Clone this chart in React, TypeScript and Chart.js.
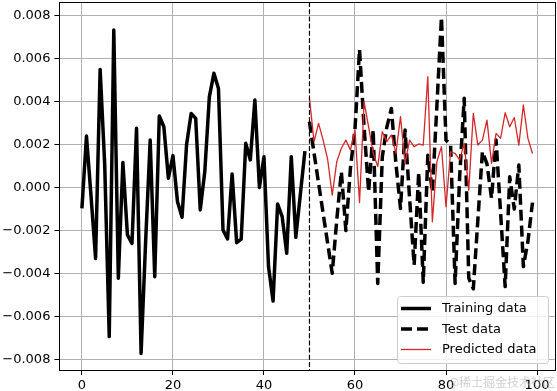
import React, { useEffect, useRef } from "react";
import { Chart, registerables } from "chart.js";

Chart.register(...registerables);

// ---- data ----
const TRAIN_START = 0;
const TEST_START = 50;
const SPLIT_X = 50;

const trainValues = [
  -0.00097, 0.00239, -0.0004, -0.00329, 0.00548, 0.0011, -0.00692, 0.00731, -0.00421, 0.00116,
  -0.0022, -0.0026, 0.00275, -0.0077, -0.0025, 0.0022, -0.00414, 0.00332, 0.00282, 0.00043,
  0.00148, -0.00066, -0.00138, 0.002, 0.00344, 0.00321, -0.00104, 0.00074, 0.00421, 0.0053,
  0.0046, -0.00197, -0.00239, 0.00063, -0.00256, -0.0024, 0.00205, 0.00128, 0.00406, 0.0,
  0.00143, -0.00367, -0.00527, -0.00077, -0.00135, -0.00305, 0.00143, -0.00231, -0.0003, 0.00169,
];

const testValues = [
  0.00305, 0.0016, 0.0002, -0.0012, -0.0026, -0.00398, -0.0015, 0.00073, -0.002, 0.0009,
  0.0027, 0.0064, 0.0028, -0.0002, 0.00267, -0.00445, 0.00143, 0.0028, 0.00367, 0.0011,
  -0.00097, 0.00267, -0.0005, -0.0036, 0.0007, -0.0044, 0.0015, -0.0002, 0.0038, 0.0079,
  0.0022, 0.002, -0.00445, 0.0005, 0.00414, -0.0042, -0.0047, -0.0015, 0.00166, 0.0011,
  -0.0005, 0.0022, -0.0012, -0.0046, 0.0005, -0.001, 0.00104, -0.00367, -0.0025, -0.0007,
];

const predValues = [
  0.00414, 0.00213, 0.00298, 0.0022, 0.0013, -0.00035, 0.0012, 0.00182, 0.0022, 0.00174,
  0.00267, -0.0007, 0.00398, 0.0028, 0.0016, 0.00097, 0.00259, 0.00213, 0.00244, 0.00159,
  0.00329, 0.00112, 0.0022, 0.0019, 0.00202, 0.00197, 0.00514, -0.00159, 0.0012, 0.0019,
  -0.00089, 0.00166, 0.00158, 0.00128, 0.00205, -0.00012, 0.00344, 0.00197, 0.0022, 0.00313,
  0.00112, 0.00251, 0.00228, 0.00347, 0.00282, 0.00325, 0.00197, 0.00383, 0.00228, 0.00158,
];

const xTicks = [0, 20, 40, 60, 80, 100];
const yTicks = [-0.008, -0.006, -0.004, -0.002, 0, 0.002, 0.004, 0.006, 0.008];
const seriesLabels = ["Training data", "Test data", "Predicted data"];
const watermark = "@稀土掘金技术社区";

const FONT = "'DejaVu Sans', 'Liberation Sans', sans-serif";

const toPoints = (vals: number[], start: number) => vals.map((v, i) => ({ x: start + i, y: v }));

const fmtY = (v: number) => {
  const s = Math.abs(v) < 1e-12 ? "0.000" : v.toFixed(3);
  return s.replace("-", "\u2212");
};

const framePlugin = {
  id: "frameAndExtras",
  afterDatasetsDraw(chart: any) {
    const { ctx, chartArea, scales } = chart;
    const x = scales.x.getPixelForValue(SPLIT_X);
    ctx.save();
    ctx.strokeStyle = "#000";
    ctx.lineWidth = 1.2;
    ctx.setLineDash([5, 2.2]);
    ctx.beginPath();
    ctx.moveTo(x, chartArea.top);
    ctx.lineTo(x, chartArea.bottom);
    ctx.stroke();
    ctx.restore();
  },
  afterDraw(chart: any) {
    const { ctx, chartArea } = chart;
    ctx.save();
    // frame
    ctx.strokeStyle = "#000";
    ctx.lineWidth = 1;
    ctx.strokeRect(
      Math.round(chartArea.left) + 0.5,
      Math.round(chartArea.top) + 0.5,
      Math.round(chartArea.right - chartArea.left),
      Math.round(chartArea.bottom - chartArea.top)
    );

    // legend (lower right)
    const bx = 397.5, by = 296.5, bw = 151, bh = 67, r = 3;
    ctx.beginPath();
    ctx.moveTo(bx + r, by);
    ctx.lineTo(bx + bw - r, by);
    ctx.quadraticCurveTo(bx + bw, by, bx + bw, by + r);
    ctx.lineTo(bx + bw, by + bh - r);
    ctx.quadraticCurveTo(bx + bw, by + bh, bx + bw - r, by + bh);
    ctx.lineTo(bx + r, by + bh);
    ctx.quadraticCurveTo(bx, by + bh, bx, by + bh - r);
    ctx.lineTo(bx, by + r);
    ctx.quadraticCurveTo(bx, by, bx + r, by);
    ctx.closePath();
    ctx.fillStyle = "rgba(255,255,255,0.8)";
    ctx.fill();
    ctx.strokeStyle = "#cccccc";
    ctx.lineWidth = 1;
    ctx.stroke();

    const rows = [308.5, 329, 349.5];
    const legendOrder = [0, 1, 2];
    legendOrder.forEach((di, k) => {
      const ds = chart.data.datasets[di];
      const yy = rows[k];
      ctx.save();
      ctx.strokeStyle = ds.borderColor;
      ctx.lineWidth = ds.borderWidth;
      ctx.setLineDash(ds.borderDash || []);
      ctx.lineCap = "butt";
      ctx.beginPath();
      ctx.moveTo(401, yy);
      ctx.lineTo(431, yy);
      ctx.stroke();
      ctx.restore();
      ctx.fillStyle = "#000";
      ctx.font = `13px ${FONT}`;
      ctx.textAlign = "left";
      ctx.textBaseline = "middle";
      ctx.fillText(ds.label, 442, yy + 0.5);
    });

    // watermark
    ctx.fillStyle = "rgba(170,170,170,0.55)";
    ctx.font = "12px 'Noto Sans CJK SC', sans-serif";
    ctx.textAlign = "right";
    ctx.textBaseline = "alphabetic";
    ctx.fillText(watermark, 555, 387);
    ctx.restore();
  },
};

export default function App() {
  const ref = useRef<HTMLCanvasElement | null>(null);

  useEffect(() => {
    if (!ref.current) return;
    const chart = new Chart(ref.current, {
      type: "line",
      data: {
        datasets: [
          {
            label: seriesLabels[0],
            data: toPoints(trainValues, TRAIN_START),
            borderColor: "#000000",
            borderWidth: 3.5,
            pointRadius: 0,
            tension: 0,
            borderJoinStyle: "round",
            borderCapStyle: "butt",
            order: 2,
          },
          {
            label: seriesLabels[1],
            data: toPoints(testValues, TEST_START),
            borderColor: "#000000",
            borderWidth: 3.5,
            borderDash: [11, 5],
            pointRadius: 0,
            tension: 0,
            borderJoinStyle: "round",
            borderCapStyle: "butt",
            order: 1,
          },
          {
            label: seriesLabels[2],
            data: toPoints(predValues, TEST_START),
            borderColor: "#d62728",
            borderWidth: 1.3,
            pointRadius: 0,
            tension: 0,
            borderJoinStyle: "round",
            order: 0,
          },
        ] as any,
      },
      options: {
        animation: false,
        responsive: false,
        devicePixelRatio: 1,
        layout: { padding: { left: 0, right: 2, top: 2, bottom: 0 } },
        plugins: {
          legend: { display: false },
          tooltip: { enabled: false },
        },
        scales: {
          x: {
            type: "linear",
            min: -4.95,
            max: 103.95,
            afterBuildTicks: (scale: any) => {
              scale.ticks = xTicks.map((v) => ({ value: v }));
            },
            afterFit: (scale: any) => {
              scale.height = 21;
              scale.paddingLeft = 0;
              scale.paddingRight = 0;
            },
            ticks: {
              autoSkip: false,
              maxRotation: 0,
              padding: 3,
              color: "#000",
              font: { family: FONT, size: 13 },
              callback: (v: any) => String(v),
            },
            grid: {
              color: "#b0b0b0",
              lineWidth: 1,
              tickColor: "#000",
              tickLength: 5,
              drawTicks: true,
            },
            border: { display: false },
          },
          y: {
            type: "linear",
            min: -0.00847,
            max: 0.00861,
            afterBuildTicks: (scale: any) => {
              scale.ticks = yTicks.map((v) => ({ value: v }));
            },
            afterFit: (scale: any) => {
              scale.width = 59.4;
              scale.paddingTop = 0;
              scale.paddingBottom = 0;
            },
            ticks: {
              autoSkip: false,
              padding: 4,
              color: "#000",
              font: { family: FONT, size: 13 },
              callback: (v: any) => fmtY(Number(v)),
            },
            grid: {
              color: "#b0b0b0",
              lineWidth: 1,
              tickColor: "#000",
              tickLength: 5,
              drawTicks: true,
            },
            border: { display: false },
          },
        },
      } as any,
      plugins: [framePlugin],
    });
    return () => chart.destroy();
  }, []);

  return (
    <div style={{ position: "absolute", left: 0, top: 0, width: 557, height: 391, background: "#fff" }}>
      <canvas ref={ref} width={557} height={391} style={{ width: 557, height: 391, display: "block" }} />
    </div>
  );
}
